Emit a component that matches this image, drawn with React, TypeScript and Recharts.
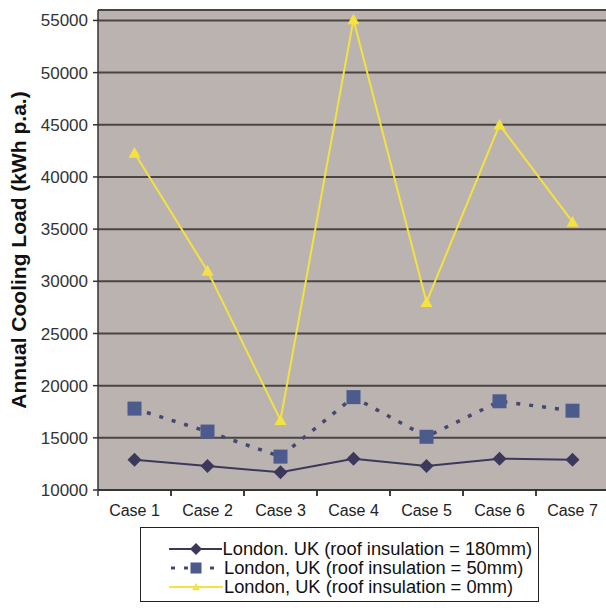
import { LineChart, Line, XAxis, YAxis, CartesianGrid, Legend, ReferenceLine } from 'recharts';

const cases = ['Case 1', 'Case 2', 'Case 3', 'Case 4', 'Case 5', 'Case 6', 'Case 7'];
const ins180 = [12900, 12300, 11700, 13000, 12300, 13000, 12900];
const ins50 = [17800, 15600, 13200, 18900, 15100, 18500, 17600];
const ins0 = [42300, 31000, 16700, 55100, 28000, 45000, 35700];
const yTicks = [10000, 15000, 20000, 25000, 30000, 35000, 40000, 45000, 50000, 55000];
const seriesNames = [
  'London. UK (roof insulation = 180mm)',
  'London, UK (roof insulation = 50mm)',
  'London, UK (roof insulation = 0mm)',
];

const Y_MIN = 10000;
const Y_MAX = 56000;

const W = 609;
const H = 613;
const X_AXIS_H = 30;
const M = { top: 10, right: 0, left: 0, bottom: 123 - X_AXIS_H };
const Y_AXIS_W = 98;
const PLOT_W = W - M.left - M.right - Y_AXIS_W;

const FONT = '"Liberation Sans", Arial, sans-serif';
const C180 = '#3c385c';
const C50 = '#4b5b8c';
const C50_LINE = '#46476f';
const C0 = '#f3e23f';

const data = cases.map((c, i) => ({ name: c, a: ins180[i], b: ins50[i], c: ins0[i] }));

// recharts hands r/fill to custom dots, so the sizes use their own prop names
const Diamond = ({ cx, cy, rad = 7 }: any) =>
  cx == null ? null : (
    <polygon points={`${cx},${cy - rad} ${cx + rad},${cy} ${cx},${cy + rad} ${cx - rad},${cy}`} fill={C180} />
  );

const Square = ({ cx, cy, side = 14 }: any) =>
  cx == null ? null : <rect x={cx - side / 2} y={cy - side / 2} width={side} height={side} fill={C50} />;

const Triangle = ({ cx, cy, rad = 6 }: any) =>
  cx == null ? null : (
    <polygon points={`${cx},${cy - rad} ${cx + rad},${cy + rad * 0.8} ${cx - rad},${cy + rad * 0.8}`} fill={C0} />
  );

const CaseTick = (props: any) => {
  const { x, y, payload } = props;
  const half = PLOT_W / cases.length / 2;
  return (
    <g>
      <line x1={x - half} x2={x - half} y1={y} y2={y + 6} stroke="#333" strokeWidth={1.5} />
      <line x1={x + half} x2={x + half} y1={y} y2={y + 6} stroke="#333" strokeWidth={1.5} />
      <text x={x} y={y + 26} textAnchor="middle" fill="#222" fontSize={16} fontFamily={FONT}>
        {payload.value}
      </text>
    </g>
  );
};

const LegendBox = () => {
  const icons = [
    (
      <svg width={54} height={18}>
        <line x1={0} x2={54} y1={9} y2={9} stroke={C180} strokeWidth={2} />
        <Diamond cx={27} cy={9} rad={6} />
      </svg>
    ),
    (
      <svg width={54} height={18}>
        <line x1={0} x2={54} y1={9} y2={9} stroke={C50_LINE} strokeWidth={3} strokeDasharray="4 9" strokeDashoffset={-2} />
        <Square cx={27} cy={9} side={11} />
      </svg>
    ),
    (
      <svg width={54} height={18}>
        <line x1={0} x2={54} y1={9} y2={9} stroke={C0} strokeWidth={2} />
        <Triangle cx={27} cy={9} rad={4} />
      </svg>
    ),
  ];
  return (
    <div
      style={{
        border: '1px solid #222',
        background: '#fff',
        padding: '11px 6px 5px 28px',
        width: 363,
        fontFamily: FONT,
        fontSize: 18.3,
        color: '#111',
        lineHeight: '19px',
      }}
    >
      {seriesNames.map((n, i) => (
        <div key={n} style={{ display: 'flex', alignItems: 'center', height: 19 }}>
          {icons[i]}
          <span style={{ marginLeft: 1, whiteSpace: 'nowrap' }}>{n}</span>
        </div>
      ))}
    </div>
  );
};

export default function App() {
  return (
    <div style={{ position: 'fixed', left: 0, top: 0, width: 606, height: 613, overflow: 'hidden', background: '#fff' }}>
      <LineChart width={W} height={H} data={data} margin={M}>
        <CartesianGrid vertical={false} stroke="#4a4443" strokeWidth={2} fill="#bbb3b0" />
        <ReferenceLine y={Y_MAX} stroke="#4a4443" strokeWidth={2} />
        <XAxis
          dataKey="name"
          padding={{ left: PLOT_W / cases.length / 2, right: PLOT_W / cases.length / 2 }}
          tickSize={0}
          tickMargin={0}
          tickLine={false}
          axisLine={{ stroke: '#333', strokeWidth: 1.5 }}
          tick={<CaseTick />}
          height={X_AXIS_H}
          interval={0}
        />
        <YAxis
          domain={[Y_MIN, Y_MAX]}
          ticks={yTicks}
          width={Y_AXIS_W}
          tickSize={5}
          tickMargin={5}
          tickLine={{ stroke: '#333', strokeWidth: 1.5 }}
          axisLine={{ stroke: '#333', strokeWidth: 1.5 }}
          tick={{ fill: '#333', fontSize: 17, fontFamily: FONT }}
          allowDataOverflow
          label={{
            content: (p: any) => {
              const vb = p.viewBox;
              const cx = vb.x + 26;
              const cy = vb.y + vb.height / 2;
              return (
                <text
                  x={cx}
                  y={cy}
                  transform={`rotate(-90 ${cx} ${cy})`}
                  textAnchor="middle"
                  fontFamily={FONT}
                  fontWeight="bold"
                  fontSize={21}
                  fill="#111"
                >
                  Annual Cooling Load (kWh p.a.)
                </text>
              );
            },
          }}
        />
        <Line dataKey="a" name={seriesNames[0]} stroke={C180} strokeWidth={2} dot={<Diamond />} isAnimationActive={false} />
        <Line
          dataKey="b"
          name={seriesNames[1]}
          stroke={C50_LINE}
          strokeWidth={3.5}
          strokeDasharray="4 9"
          dot={<Square />}
          isAnimationActive={false}
        />
        <Line dataKey="c" name={seriesNames[2]} stroke={C0} strokeWidth={2} dot={<Triangle />} isAnimationActive={false} />
        <Legend
          layout="horizontal"
          verticalAlign="middle"
          align="center"
          content={<LegendBox />}
          wrapperStyle={{ left: 140, top: 527, width: 'auto', height: 'auto' }}
        />
      </LineChart>
    </div>
  );
}
